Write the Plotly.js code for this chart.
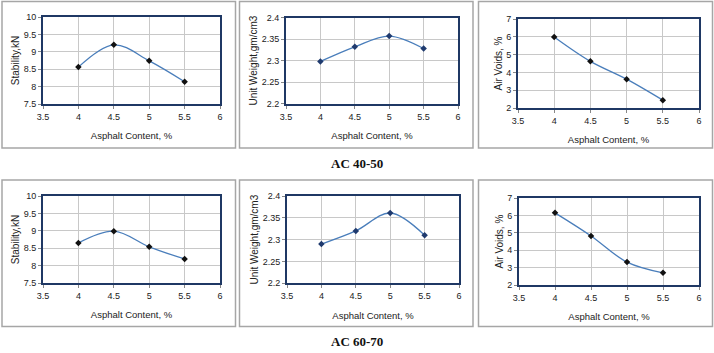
<!DOCTYPE html>
<html>
<head>
<meta charset="utf-8">
<script src="https://cdn.plot.ly/plotly-3.0.1.min.js"></script>
<style>html,body{margin:0;padding:0;background:#fff;}#chart{width:714px;height:353px;}</style>
</head>
<body>
<div id="chart"></div>
<script>
const asphaltContent = [4, 4.5, 5, 5.5];
const stability4050 = [8.56, 9.2, 8.74, 8.14];
const unitWeight4050 = [2.298, 2.332, 2.357, 2.328];
const airVoids4050 = [5.99, 4.62, 3.62, 2.44];
const stability6070 = [8.65, 8.99, 8.54, 8.19];
const unitWeight6070 = [2.29, 2.32, 2.361, 2.31];
const airVoids6070 = [6.16, 4.83, 3.32, 2.7];
const groupLabels = ["AC 40-50", "AC 60-70"];
const xTitle = "Asphalt Content, %";
const yTitles = ["Stability,kN", "Unit Weight,gm/cm3", "Air Voids, %"];
const yRanges = [[7.5, 10], [2.2, 2.4], [2, 7]];
const yDtick = [0.5, 0.05, 1];

const W = 714, H = 353;
const px = (a, b) => [a / W, b / W];
const py = (top, bot) => [1 - bot / H, 1 - top / H];

const plotBoxes = [
  {x: px(43, 220), y: py(17, 104)},
  {x: px(286, 458), y: py(17.5, 103.7)},
  {x: px(518, 699), y: py(19, 108)},
  {x: px(43, 220), y: py(196, 283)},
  {x: px(287, 459), y: py(196, 283.3)},
  {x: px(519, 699), y: py(198.3, 285)}
];
const series = [stability4050, unitWeight4050, airVoids4050, stability6070, unitWeight6070, airVoids6070];
const markerColors = ["#111111", "#1f3a6e", "#111111", "#111111", "#1f3a6e", "#111111"];

const data = [];
const layout = {
  width: W, height: H,
  margin: {l: 0, r: 0, t: 0, b: 0},
  paper_bgcolor: "#ffffff", plot_bgcolor: "#ffffff",
  showlegend: false,
  font: {family: "Liberation Sans, Arial, sans-serif", size: 9, color: "#222"},
  shapes: [], annotations: []
};

series.forEach((ys, i) => {
  const n = i + 1;
  const xa = "xaxis" + (n === 1 ? "" : n), ya = "yaxis" + (n === 1 ? "" : n);
  data.push({
    type: "scatter", mode: "lines+markers",
    x: asphaltContent, y: ys,
    xaxis: "x" + (n === 1 ? "" : n), yaxis: "y" + (n === 1 ? "" : n),
    line: {color: "#4a7ebb", width: 1.3, shape: "spline", smoothing: 1},
    marker: {symbol: "diamond", size: 5, color: markerColors[i]}
  });
  const k = i % 3;
  layout[xa] = {
    domain: plotBoxes[i].x, anchor: "y" + (n === 1 ? "" : n),
    range: [3.5, 6], dtick: 0.5, tick0: 3.5,
    showgrid: true, gridcolor: "#c8c8c8", gridwidth: 1,
    showline: true, linecolor: "#1f3864", linewidth: 2, mirror: true,
    ticks: "outside", ticklen: 3, tickcolor: "#888",
    zeroline: false, tickfont: {size: 9, color: "#222"},
    title: {text: xTitle, font: {size: 9.5, color: "#222"}, standoff: 12}
  };
  layout[ya] = {
    domain: plotBoxes[i].y, anchor: "x" + (n === 1 ? "" : n),
    range: yRanges[k], dtick: yDtick[k], tick0: yRanges[k][0],
    showgrid: true, gridcolor: "#c8c8c8", gridwidth: 1,
    showline: true, linecolor: "#1f3864", linewidth: 2, mirror: true,
    ticks: "outside", ticklen: 3, tickcolor: "#888",
    zeroline: false, tickfont: {size: 9, color: "#222"},
    title: {text: yTitles[k], font: {size: 10, color: "#222"}, standoff: 2}
  };
});

const outerCols = [[2, 235.5], [239.5, 473], [478.5, 712.5]];
const outerRows = [[1.5, 148], [180, 326.5]];
outerRows.forEach(r => outerCols.forEach(c => {
  layout.shapes.push({
    type: "rect", xref: "paper", yref: "paper",
    x0: c[0] / W, x1: c[1] / W, y0: 1 - r[1] / H, y1: 1 - r[0] / H,
    line: {color: "#a6a6a6", width: 1.5}, fillcolor: "rgba(0,0,0,0)", layer: "below"
  });
}));
const labelY = [163, 341];
groupLabels.forEach((t, i) => {
  layout.annotations.push({
    text: "<b>" + t + "</b>", xref: "paper", yref: "paper",
    x: 357 / W, y: 1 - labelY[i] / H, showarrow: false,
    xanchor: "center", yanchor: "middle",
    font: {family: "Liberation Serif, Times New Roman, serif", size: 13, color: "#111"}
  });
});

Plotly.newPlot("chart", data, layout, {staticPlot: true, displayModeBar: false});
</script>
</body>
</html>
